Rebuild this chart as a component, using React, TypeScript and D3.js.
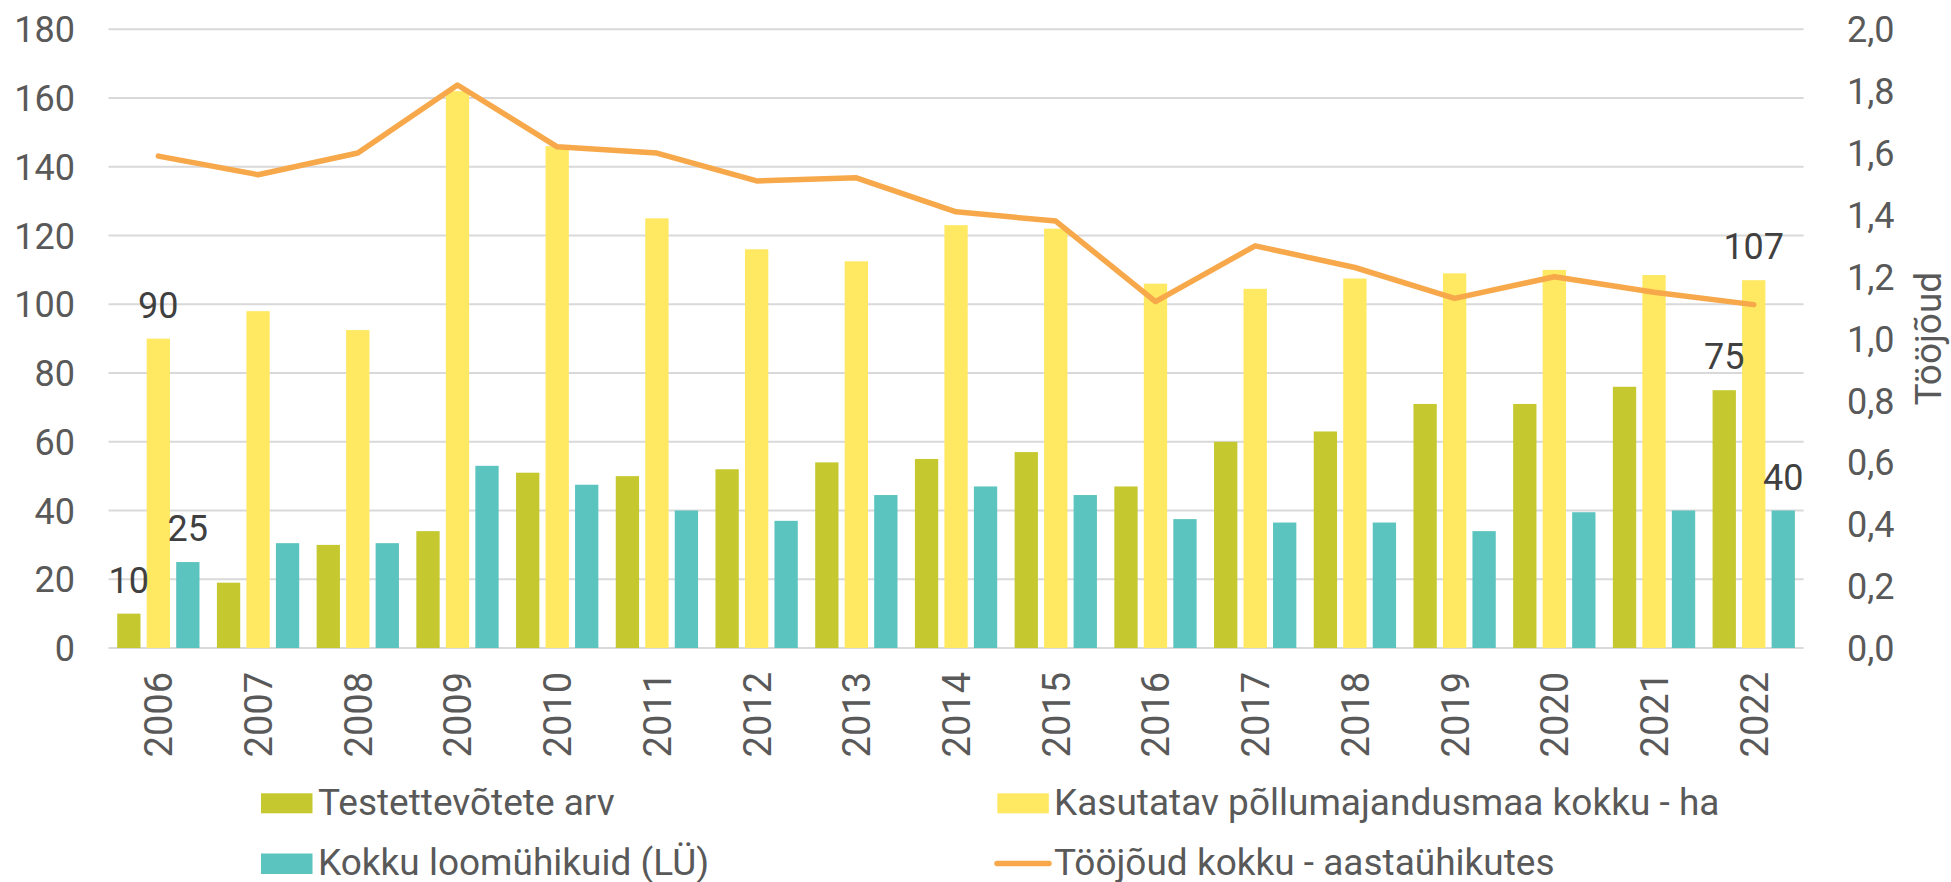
import React from "react";
import * as d3 from "d3";

const years = ["2006","2007","2008","2009","2010","2011","2012","2013","2014","2015","2016","2017","2018","2019","2020","2021","2022"];
const testettevotted = [10,19,30,34,51,50,52,54,55,57,47,60,63,71,71,76,75];
const pollumaa = [90,98,92.5,162,146,125,116,112.5,123,122,106,104.5,107.5,109,110,108.5,107];
const loomuhikud = [25,30.5,30.5,53,47.5,40,37,44.5,47,44.5,37.5,36.5,36.5,34,39.5,40,40];
const toojoud = [1.59,1.53,1.60,1.82,1.62,1.60,1.51,1.52,1.41,1.38,1.12,1.30,1.23,1.13,1.20,1.15,1.11];
const leftTicks = [0,20,40,60,80,100,120,140,160,180];
const rightTicks = [0,0.2,0.4,0.6,0.8,1.0,1.2,1.4,1.6,1.8,2.0];
const seriesNames = ["Testettevõtete arv","Kasutatav põllumajandusmaa kokku - ha","Kokku loomühikuid (LÜ)","Tööjõud kokku - aastaühikutes"];
const colors = ["#C5C92F","#FFE862","#5BC4BF","#F7A84A"];
// labelled points: [seriesIndex, yearIndex]
const labelled: [number, number][] = [[0,0],[1,0],[2,0],[0,16],[1,16],[2,16]];

export default function App() {
  const W = 1951, H = 882;
  const left = 108.5, right = 1803.6, top = 29.3, bottom = 648;
  const x = d3.scaleBand().domain(years).range([left, right]).paddingInner(0).paddingOuter(0);
  const x1 = d3.scaleBand().domain(["a","b","c"]).range([0, x.bandwidth()]).paddingInner(0.21).paddingOuter(0.295);
  const y = d3.scaleLinear().domain([0,180]).range([bottom, top]);
  const y2 = d3.scaleLinear().domain([0,2]).range([bottom, top]);
  const bars = [testettevotted, pollumaa, loomuhikud];
  const keys = ["a","b","c"];
  const line = d3.line<number>().x((_, i) => (x(years[i]) as number) + x.bandwidth()/2).y(d => y2(d));
  const font = "Roboto, sans-serif";
  const fmt = (v: number) => v.toFixed(1).replace(".", ",");
  return (
    <svg width={W} height={H} style={{position:"absolute", left:0, top:0, background:"#fff"}} fontFamily={font}>
      {leftTicks.map(t => (
        <line key={"g"+t} x1={left} x2={right} y1={y(t)} y2={y(t)} stroke="#D9D9D9" strokeWidth={2} />
      ))}
      {leftTicks.map(t => (
        <text key={"l"+t} x={75} y={y(t)+13} textAnchor="end" fontSize={36} fill="#595959">{t}</text>
      ))}
      {rightTicks.map(t => (
        <text key={"r"+t} x={1847} y={y2(t)+13} textAnchor="start" fontSize={36} fill="#595959">{fmt(t)}</text>
      ))}
      <text transform={`translate(1941,${(top+bottom)/2}) rotate(-90)`} textAnchor="middle" fontSize={37} fill="#595959">Tööjõud</text>
      {bars.map((s, si) => s.map((v, i) => (
        <rect key={`b${si}-${i}`} x={(x(years[i]) as number) + (x1(keys[si]) as number)} y={y(v)} width={x1.bandwidth()} height={bottom - y(v)} fill={colors[si]} />
      )))}
      <path d={line(toojoud) || ""} fill="none" stroke={colors[3]} strokeWidth={5.5} strokeLinejoin="round" strokeLinecap="round" />
      {labelled.map(([si, i]) => {
        const v = bars[si][i];
        const cx = (x(years[i]) as number) + (x1(keys[si]) as number) + x1.bandwidth()/2;
        return <text key={`d${si}-${i}`} x={cx} y={y(v) - 21} textAnchor="middle" fontSize={36} fill="#404040">{v}</text>;
      })}
      {years.map(yr => {
        const cx = (x(yr) as number) + x.bandwidth()/2;
        return <text key={"y"+yr} transform={`translate(${cx+14},672) rotate(-90)`} textAnchor="end" fontSize={38} fill="#595959">{yr}</text>;
      })}
      <rect x={261} y={793.3} width={51.5} height={20} fill={colors[0]} />
      <text x={318} y={815} fontSize={37} fill="#595959">{seriesNames[0]}</text>
      <rect x={997.3} y={793.3} width={51.5} height={20} fill={colors[1]} />
      <text x={1054} y={815} fontSize={37} fill="#595959">{seriesNames[1]}</text>
      <rect x={261} y={853.5} width={51.5} height={20.5} fill={colors[2]} />
      <text x={318} y={875} fontSize={37} fill="#595959">{seriesNames[2]}</text>
      <line x1={997} x2={1049} y1={863.5} y2={863.5} stroke={colors[3]} strokeWidth={5.5} strokeLinecap="round" />
      <text x={1054} y={875} fontSize={37} fill="#595959">{seriesNames[3]}</text>
    </svg>
  );
}
